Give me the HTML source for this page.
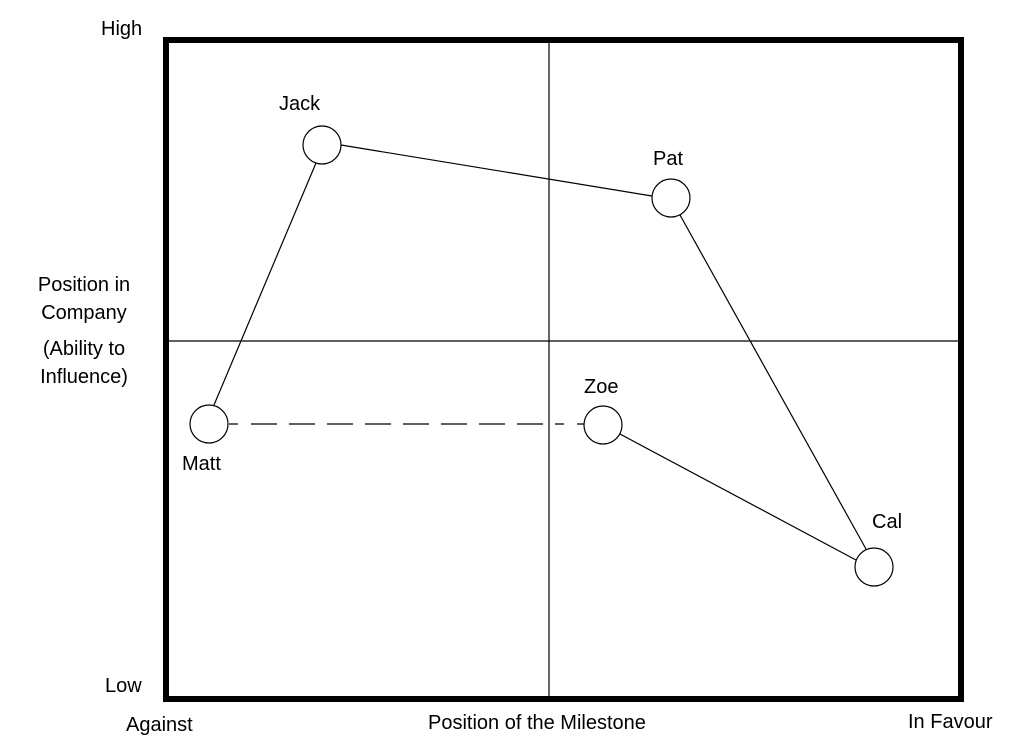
<!DOCTYPE html>
<html><head><style>
body{margin:0;background:#fff;}
svg{display:block;}
text{font-family:"Liberation Sans",Arial,sans-serif;font-size:20px;fill:#000;}
</style></head><body>
<svg width="1024" height="749" viewBox="0 0 1024 749">
<rect x="166" y="40" width="795" height="659" fill="none" stroke="#000" stroke-width="6"/>
<line x1="549" y1="40" x2="549" y2="699" stroke="#000" stroke-width="1.2"/>
<line x1="166" y1="341" x2="961" y2="341" stroke="#000" stroke-width="1.2"/>
<g stroke="#000" stroke-width="1.2" fill="none">
<line x1="341" y1="145" x2="652" y2="196"/>
<line x1="316" y1="163" x2="214" y2="405"/>
<line x1="680" y1="215" x2="866" y2="549"/>
<line x1="620" y1="434" x2="856" y2="560"/>
<line x1="229" y1="424" x2="584" y2="424" stroke-dasharray="9,13,26,12,26,12,26,12,26,12,26,12,26,12,26,12,26,12"/>
</g>
<g stroke="#000" stroke-width="1.2" fill="#fff">
<circle cx="322" cy="145" r="19"/>
<circle cx="671" cy="198" r="19"/>
<circle cx="209" cy="424" r="19"/>
<circle cx="603" cy="425" r="19"/>
<circle cx="874" cy="567" r="19"/>
</g>
<text x="101" y="35">High</text>
<text x="105" y="692">Low</text>
<text x="126" y="731">Against</text>
<text x="428" y="729">Position of the Milestone</text>
<text x="908" y="728">In Favour</text>
<text x="84" y="291" text-anchor="middle">Position in</text>
<text x="84" y="319" text-anchor="middle">Company</text>
<text x="84" y="355" text-anchor="middle">(Ability to</text>
<text x="84" y="383" text-anchor="middle">Influence)</text>
<text x="279" y="110">Jack</text>
<text x="653" y="165">Pat</text>
<text x="182" y="470">Matt</text>
<text x="584" y="393">Zoe</text>
<text x="872" y="528">Cal</text>
</svg>
</body></html>
